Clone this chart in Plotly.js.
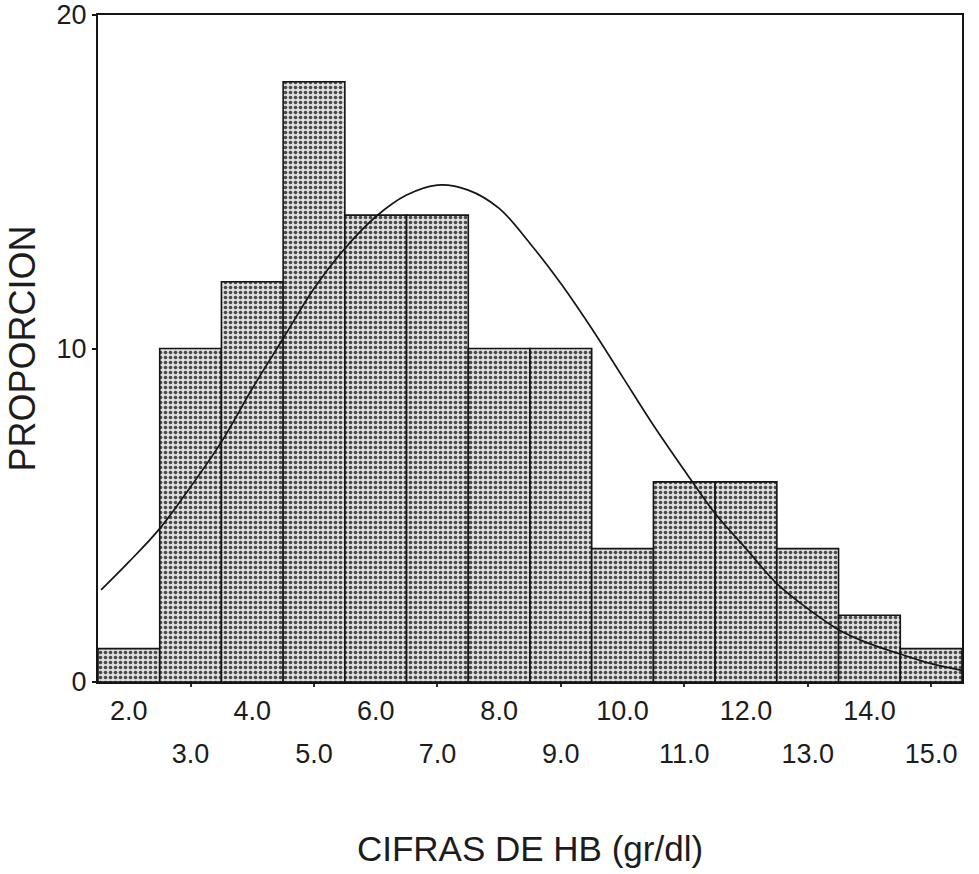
<!DOCTYPE html>
<html>
<head>
<meta charset="utf-8">
<script src="https://cdn.plot.ly/plotly-3.0.1.min.js"></script>
<style>html,body{margin:0;padding:0;background:#fff;}#chart{width:979px;height:874px;}</style>
</head>
<body>
<div id="chart"></div>
<script>
// Histogram bins (centres) and heights
var binCenters = [2, 3, 4, 5, 6, 7, 8, 9, 10, 11, 12, 13, 14, 15];
var binValues  = [1, 10, 12, 18, 14, 14, 10, 10, 4, 6, 6, 4, 2, 1];

// Fitted normal curve
var curveX = [1.55, 2.0, 2.5, 3.0, 3.5, 4.0, 4.5, 5.0, 5.5, 6.0, 6.5, 7.0, 7.5, 8.0, 8.5, 9.0, 9.5, 10.0, 10.5, 11.0, 11.5, 12.0, 12.5, 13.0, 13.5, 14.0, 14.5, 15.0, 15.5];
var curveY = [2.76, 3.6, 4.6, 5.85, 7.2, 8.8, 10.3, 11.8, 13.0, 13.95, 14.6, 14.9, 14.75, 14.2, 13.15, 11.95, 10.6, 9.15, 7.7, 6.35, 5.05, 4.0, 2.95, 2.2, 1.57, 1.15, 0.84, 0.55, 0.35];

// Tick labels (staggered in two rows)
var evenTicks = [2, 4, 6, 8, 10, 12, 14];
var evenLabels = ["2.0", "4.0", "6.0", "8.0", "10.0", "12.0", "14.0"];
var oddTicks = [3, 5, 7, 9, 11, 13, 15];
var oddLabels = ["3.0", "5.0", "7.0", "9.0", "11.0", "13.0", "15.0"];
var yTicks = [0, 10, 20];
var yLabels = ["0", "10", "20"];

var font = "Liberation Sans, Arial, sans-serif";
var txt = "#1c1c1c";

var traces = [
  {
    type: "bar",
    x: binCenters,
    y: binValues,
    width: 1,
    marker: {
      color: "#d4d4d4",
      line: {color: "#151515", width: 1.6},
      pattern: {shape: ".", fgcolor: "#4a4a4a", bgcolor: "#dedede", size: 5, solidity: 0.42}
    },
    hoverinfo: "x+y",
    showlegend: false
  },
  {
    type: "scatter",
    mode: "lines",
    x: curveX,
    y: curveY,
    line: {color: "#151515", width: 1.7, shape: "spline"},
    showlegend: false,
    hoverinfo: "skip"
  },
  // invisible point that activates the second (even-label) x axis
  {type: "scatter", mode: "markers", x: [2], y: [0], xaxis: "x2", yaxis: "y", marker: {opacity: 0}, hoverinfo: "skip", showlegend: false}
];

var layout = {
  width: 979,
  height: 874,
  paper_bgcolor: "#ffffff",
  plot_bgcolor: "#ffffff",
  margin: {l: 98, r: 17, t: 15, b: 192},
  bargap: 0,
  showlegend: false,
  font: {family: font, color: txt},
  xaxis: {
    range: [1.5, 15.5],
    tickmode: "array",
    tickvals: oddTicks,
    ticktext: oddLabels,
    ticks: "outside",
    ticklen: 3,
    tickwidth: 2,
    tickcolor: "#333",
    ticklabelstandoff: 44,
    tickfont: {family: font, size: 27, color: txt},
    showline: true,
    linecolor: "#151515",
    linewidth: 2,
    mirror: true,
    showgrid: false,
    zeroline: false,
    title: {text: "CIFRAS DE HB (gr/dl)", font: {family: font, size: 35, color: txt}, standoff: 68}
  },
  xaxis2: {
    matches: "x",
    overlaying: "x",
    anchor: "y",
    side: "bottom",
    range: [1.5, 15.5],
    tickmode: "array",
    tickvals: evenTicks,
    ticktext: evenLabels,
    ticks: "",
    ticklabelstandoff: 10,
    tickfont: {family: font, size: 27, color: txt},
    showline: false,
    showgrid: false,
    zeroline: false
  },
  yaxis: {
    range: [0, 20],
    tickmode: "array",
    tickvals: yTicks,
    ticktext: yLabels,
    ticks: "outside",
    ticklen: 4,
    tickwidth: 2,
    tickcolor: "#151515",
    tickfont: {family: font, size: 27, color: txt},
    showline: true,
    linecolor: "#151515",
    linewidth: 2,
    mirror: true,
    showgrid: false,
    zeroline: false,
    title: {text: "PROPORCION", font: {family: font, size: 36, color: txt}, standoff: 10}
  }
};

Plotly.newPlot("chart", traces, layout, {displayModeBar: false, staticPlot: true});
</script>
</body>
</html>
